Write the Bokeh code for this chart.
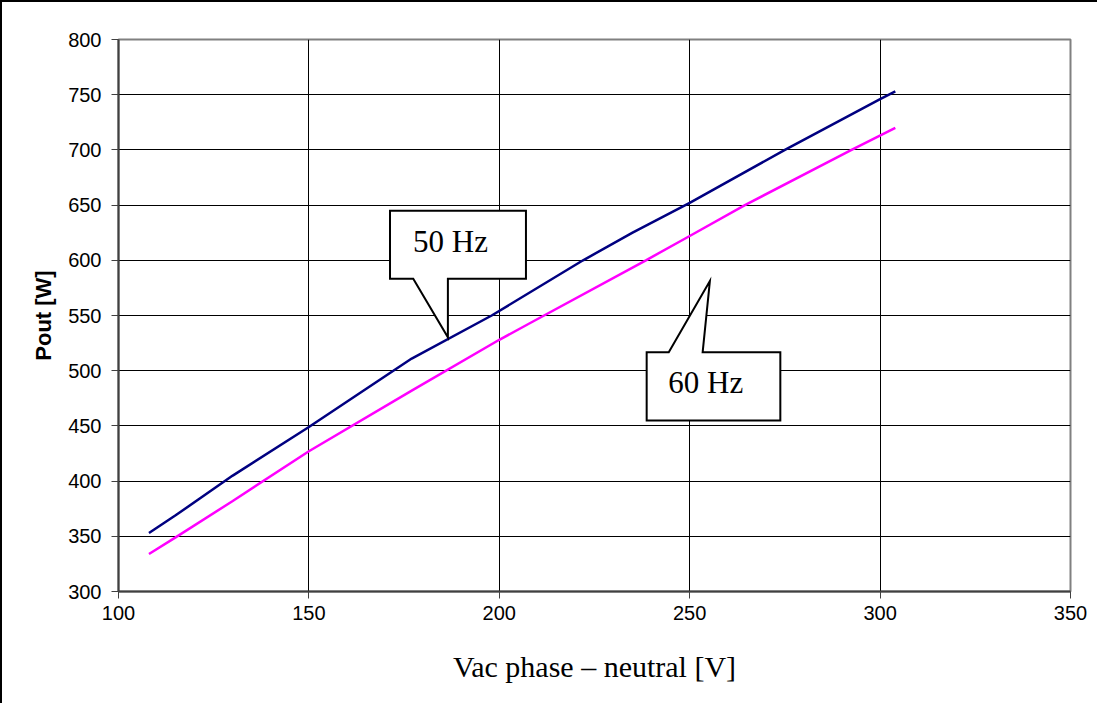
from bokeh.plotting import figure
from bokeh.models import FixedTicker
from bokeh.core.properties import value
from bokeh.embed import file_html
from bokeh.resources import INLINE

# Data
v_50hz = [108, 115, 130, 150, 177, 198, 222, 235, 250, 275, 300, 304]
p_50hz = [353, 369, 405, 449, 511, 550, 600, 625, 652, 700, 746, 753]

v_60hz = [108, 115, 130, 150, 177, 200, 208, 238.5, 250, 264.5, 292.5, 304]
p_60hz = [334, 349, 382, 427, 482, 528, 543, 600, 622, 650, 700, 720]

x_ticks = [100, 150, 200, 250, 300, 350]
y_ticks = [300, 350, 400, 450, 500, 550, 600, 650, 700, 750, 800]

# Callout annotations (label, box, pointer) in data units
callouts = [
    dict(label="50 Hz", box=(171.3, 207.0, 583.4, 644.8), base=(177.4, 186.5),
         tip=(186.5, 530.3), side="bottom", text_pos=(187.2, 616.6)),
    dict(label="60 Hz", box=(238.7, 273.8, 454.8, 516.6), base=(244.5, 253.4),
         tip=(255.3, 581.2), side="top", text_pos=(254.2, 489.4)),
]

p = figure(width=1097, height=703, output_backend="svg", toolbar_location=None,
           x_range=(100, 350), y_range=(300, 800),
           min_border_left=116, min_border_top=37, min_border_right=29,
           min_border_bottom=114)
p.styles = {"border-left": "2px solid black", "border-top": "2px solid black"}

p.outline_line_color = "#808080"
p.outline_line_width = 2

for ax in (p.xaxis[0], p.yaxis[0]):
    ax.axis_line_color = "#404040"
    ax.axis_line_width = 2
    ax.major_tick_line_color = "#404040"
    ax.major_tick_line_width = 1
    ax.major_tick_out = 7
    ax.major_tick_in = 0
    ax.minor_tick_line_color = None
    ax.major_label_text_font = "Liberation Sans"
    ax.major_label_text_font_size = "20px"
    ax.major_label_text_color = "black"

p.xaxis.ticker = FixedTicker(ticks=x_ticks)
p.yaxis.ticker = FixedTicker(ticks=y_ticks)
p.xaxis.major_label_standoff = 7
p.yaxis.major_label_standoff = 10

p.xaxis.axis_label = "Vac phase \u2013 neutral [V]"
p.xaxis.axis_label_text_font = "Liberation Serif"
p.xaxis.axis_label_text_font_size = "30px"
p.xaxis.axis_label_text_font_style = "normal"
p.xaxis.axis_label_text_color = "black"
p.xaxis.axis_label_standoff = 27

p.yaxis.axis_label = "Pout [W]"
p.yaxis.axis_label_text_font = "Liberation Sans"
p.yaxis.axis_label_text_font_size = "22px"
p.yaxis.axis_label_text_font_style = "bold"
p.yaxis.axis_label_text_color = "black"
p.yaxis.axis_label_standoff = 9

p.xgrid.ticker = FixedTicker(ticks=x_ticks)
p.ygrid.ticker = FixedTicker(ticks=y_ticks)
for g in (p.xgrid[0], p.ygrid[0]):
    g.grid_line_color = "black"
    g.grid_line_width = 1

p.line(v_50hz, p_50hz, line_color="#000080", line_width=2.5)
p.line(v_60hz, p_60hz, line_color="#FF00FF", line_width=2.5)

for c in callouts:
    x0, x1, y0, y1 = c["box"]
    b0, b1 = c["base"]
    tx, ty = c["tip"]
    if c["side"] == "bottom":
        xs = [x0, x1, x1, b1, tx, b0, x0]
        ys = [y1, y1, y0, y0, ty, y0, y0]
    else:
        xs = [x0, b0, tx, b1, x1, x1, x0]
        ys = [y1, y1, ty, y1, y1, y0, y0]
    p.patch(xs, ys, fill_color="white", line_color="black", line_width=2,
            line_join="miter")
    p.text(x=[c["text_pos"][0]], y=[c["text_pos"][1]], text=[c["label"]],
           text_font=value("Liberation Serif"), text_font_size="31px",
           text_align="center", text_baseline="middle", text_color="black")

open("out.html", "w").write(file_html(p, INLINE))
